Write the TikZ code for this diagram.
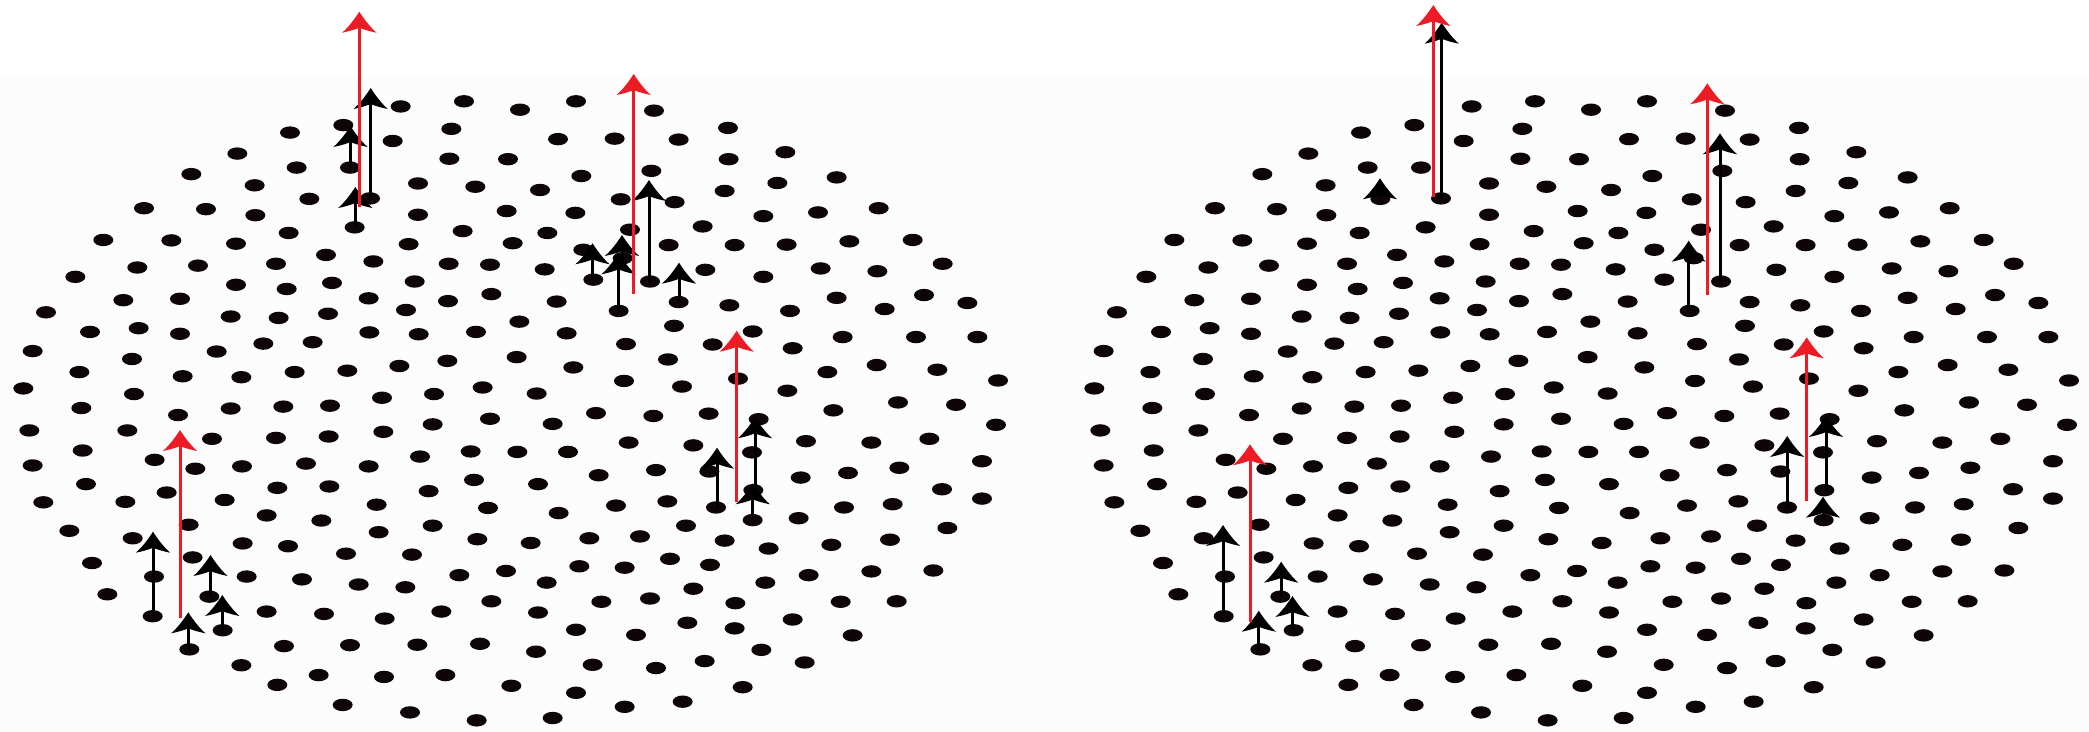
\documentclass[tikz,border=0pt]{standalone}
\usetikzlibrary{arrows.meta}

\definecolor{dotc}{RGB}{14,6,6}
\definecolor{spinred}{RGB}{237,28,36}
\definecolor{tint}{RGB}{252,252,252}

% arrow head with slightly concave flanks and a notched back
\pgfdeclarearrow{
  name = Spike,
  setup code = {
    \pgfarrowssettipend{0pt}
    \pgfarrowssetlineend{-6pt}
    \pgfarrowssetvisualbackend{-10.5pt}
    \pgfarrowssetbackend{-10.5pt}
    \pgfarrowsupperhullpoint{0pt}{0pt}
    \pgfarrowsupperhullpoint{-10.5pt}{8.6pt}
  },
  drawing code = {
    \pgfpathmoveto{\pgfqpoint{0pt}{0pt}}
    \pgfpathcurveto{\pgfqpoint{-3.5pt}{2.2pt}}{\pgfqpoint{-8pt}{5.6pt}}{\pgfqpoint{-10.5pt}{8.6pt}}
    \pgfpathcurveto{\pgfqpoint{-9.6pt}{4.2pt}}{\pgfqpoint{-8.6pt}{1.3pt}}{\pgfqpoint{-8pt}{0pt}}
    \pgfpathcurveto{\pgfqpoint{-8.6pt}{-1.3pt}}{\pgfqpoint{-9.6pt}{-4.2pt}}{\pgfqpoint{-10.5pt}{-8.6pt}}
    \pgfpathcurveto{\pgfqpoint{-8pt}{-5.6pt}}{\pgfqpoint{-3.5pt}{-2.2pt}}{\pgfqpoint{0pt}{0pt}}
    \pgfpathclose
    \pgfusepathqfill
  }
}

% lattice sites, sampled on a 1.5 x 2.142 grid (divided back below)
\def\sitelist{601/228,696/217,780/235,864/217,981/237,
515/268,677/276,589/302,837/298,922/297,1018/299,1092/274,435/284,356/329,1178/326,
287/373,445/359,525/359,674/340,762/341,1093/341,872/377,977/366,1166/392,1255/380,
382/397,627/393,713/400,810/407,931/427,1012/433,1087/409,
216/446,309/448,383/461,464/426,555/425,627/460,760/452,863/456,1145/463,1227/455,1318/446,
532/487,433/499,694/495,821/499,945/492,1054/485,
155/514,257/515,354/522,613/523,769/521,1003/525,1102/525,1180/524,1274/517,1369/514,
489/546,560/560,414/565,673/565,735/567,817/577,934/553,875/535,1058/578,1231/575,1316/581,1414/565,
113/593,206/573,297/569,622/603,1145/593,890/599,975/603,
354/610,430/619,498/606,1018/647,
185/643,270/640,553/639,609/664,672/645,737/630,835/646,928/666,1094/654,1185/666,1255/638,1327/662,1386/632,1451/649,
69/669,346/678,418/681,492/672,779/689,1011/698,
135/711,208/703,270/715,554/712,628/716,714/711,850/714,1129/710,1264/722,1374/722,1466/722,
49/752,325/753,395/736,469/733,939/737,1069/738,1189/746,
198/769,119/797,274/806,362/808,442/797,521/794,599/784,671/773,775/765,860/787,1002/770,1241/797,1315/782,1406/792,
35/832,201/844,573/852,651/844,724/830,805/843,936/816,1023/828,1107/811,1181/837,1497/815,
122/874,267/889,346/875,425/871,495/869,894/885,980/891,1063/886,1250/879,1347/862,1434/867,
44/922,191/922,318/940,414/938,493/935,575/925,649/909,735/897,829/908,1138/898,1494/910,
124/965,232/985,293/1004,363/999,459/993,553/999,630/978,706/967,776/968,852/968,943/948,1040/954,1128/969,1209/945,1307/948,1394/940,
49/997,129/1037,250/1055,337/1071,416/1045,494/1042,643/1052,711/1028,807/1037,898/1018,984/1007,1064/1010,1201/1023,1272/1013,1349/1002,1473/988,
65/1076,188/1075,565/1081,732/1088,838/1099,924/1083,1001/1074,1074/1087,1130/1050,1266/1087,1339/1080,1413/1048,1473/1068,
104/1137,199/1153,283/1124,400/1104,482/1115,568/1140,649/1126,716/1155,796/1163,884/1153,960/1149,1029/1126,1087/1158,1129/1114,1198/1110,1247/1167,1335/1156,1421/1131,
138/1206,231/1235,289/1194,364/1164,432/1170,519/1186,618/1188,1005/1197,1065/1210,1153/1175,
161/1273,314/1278,370/1235,453/1241,538/1252,608/1258,689/1232,759/1223,820/1248,869/1213,937/1216,1040/1261,1148/1248,1213/1232,1307/1224,1400/1222,
229/1320,334/1350,400/1310,486/1315,577/1325,662/1310,737/1288,807/1312,902/1289,975/1282,1103/1292,1261/1289,1345/1288,
284/1391,426/1384,525/1382,626/1381,720/1379,804/1396,864/1349,954/1360,1031/1334,1102/1346,1189/1327,1279/1361,
362/1425,416/1467,478/1446,576/1450,668/1446,767/1469,889/1424,984/1431,1057/1416,1142/1392,1207/1419,
514/1510,615/1526,715/1543,829/1538,864/1484,937/1514,1024/1503,1114/1472}

\tikzset{
  site/.style={fill=dotc},
  spinhead/.style={-{Spike}},
  spinblack/.style={spinhead,draw=black,line width=1.5pt},
  spinredarrow/.style={spinhead,draw=spinred,line width=1.5pt},
}

\begin{document}
\begin{tikzpicture}[x=0.5pt,y=-0.5pt]
  % canvas: white strip on top, faint tint below
  \fill[white] (0,0) rectangle (2089,732);
  \fill[tint] (0,78) rectangle (2089,732);
  \useasboundingbox (0,0) rectangle (2089,732);

  % two copies of the same lattice
  \foreach \sx in {0,1071}{
    \foreach \a/\b in \sitelist{
      \fill[site] ({\a/1.5+\sx},{\b/2.142}) ellipse [x radius=5pt, y radius=3.1pt];
    }
  }

  % black spins: name / x / base y / tip y
  \foreach \n/\x/\yb/\yt in {
      lA1/370.7/198.4/88, lA2/350.5/167.7/126, lA3/355.3/227.4/187,
      lB1/649/281.7/180, lB2/618.5/310.7/253.3, lB3/622/258/235,
      lB4/592.5/280/243.3, lB5/679/301.7/262.7,
      lC1/153/615.7/531.7, lC2/210.5/596.7/555, lC3/222.3/630/595, lC4/188.3/650/612.3,
      lD1/717/507.7/447.7, lD2/755/490/417.3, lD3/752.8/520/483.3,
      rA1/1441.7/198.3/22.7, rA2/1380/198/178.3,
      rB1/1720/281.7/133.3, rB2/1688.7/310.7/240.7,
      rC1/1223/615.7/525, rC2/1281.2/596.7/561.7, rC3/1292.5/630/596, rC4/1258.8/650/610.7,
      rD1/1787.2/507.7/436, rD2/1826/490.7/416, rD3/1823/520/496.7}{
    \coordinate (\n-base) at (\x,\yb);
    \coordinate (\n-tip) at (\x,\yt);
    \draw[spinblack] (\n-base) -- (\n-tip);
  }

  % red (net) spins
  \foreach \n/\x/\yb/\yt in {
      lRA/359.3/207/11.7, lRB/633.7/294/74, lRC/180/618/430, lRD/736.7/501.7/330.7,
      rRA/1433.3/197.3/5, rRB/1707.3/295/83.3, rRC/1250/621.7/444.3, rRD/1806.7/501/337.3}{
    \coordinate (\n-base) at (\x,\yb);
    \coordinate (\n-tip) at (\x,\yt);
    \draw[spinredarrow] (\n-base) -- (\n-tip);
  }
\end{tikzpicture}
\end{document}
